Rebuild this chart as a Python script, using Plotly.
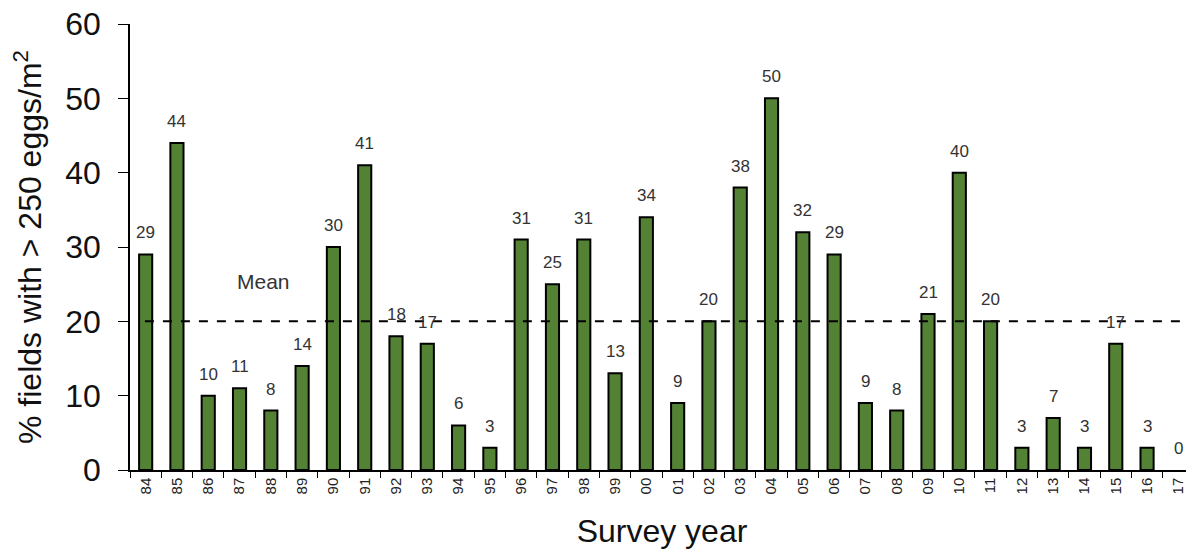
import plotly.graph_objects as go

years = ["84","85","86","87","88","89","90","91","92","93","94","95","96","97","98","99",
         "00","01","02","03","04","05","06","07","08","09","10","11","12","13","14","15","16","17"]
values = [29,44,10,11,8,14,30,41,18,17,6,3,31,25,31,13,34,9,20,38,50,32,29,9,8,21,40,20,3,7,3,17,3,0]
mean_value = 20
y_ticks = [0,10,20,30,40,50,60]

fig = go.Figure()
fig.add_trace(go.Bar(
    x=years, y=values, width=0.42,
    marker=dict(color="#548235",
                line=dict(color="black", width=[0 if v == 0 else 2 for v in values])),
    hoverinfo="x+y",
))

for i, v in enumerate(values):
    fig.add_annotation(x=i, y=v, text=str(v), showarrow=False, yanchor="bottom",
                       yshift=10, font=dict(family="Arial", size=17, color="#333333"))

fig.add_shape(type="line", xref="paper", yref="y", x0=0.014, x1=0.989,
              y0=mean_value, y1=mean_value, line=dict(color="black", width=2, dash="dash"))
fig.add_annotation(x=3.75, y=mean_value + 5.4, text="Mean", showarrow=False,
                   font=dict(family="Arial", size=21, color="#333333"))

fig.update_layout(
    width=1194, height=554,
    margin=dict(l=122, r=8, t=16, b=92),
    plot_bgcolor="white", paper_bgcolor="white",
    showlegend=False, bargap=0.58,
    font=dict(family="Arial", color="black"),
)
fig.update_xaxes(
    type="category", showline=True, linecolor="black", linewidth=1.5,
    ticks="outside", ticklen=6, tickcolor="black", tickson="boundaries",
    tickangle=-90, tickfont=dict(family="Arial", size=15, color="#222222"),
    title=dict(text="Survey year", font=dict(family="Arial", size=32, color="#111111"), standoff=26),
    range=[-0.5, len(years) - 0.5], automargin=False, ticklabeloverflow="allow",
)
fig.update_yaxes(
    range=[0, 60], tickvals=y_ticks, showline=True, linecolor="black", linewidth=1.5,
    ticks="outside", ticklen=10, tickcolor="black", showgrid=False, zeroline=False,
    tickfont=dict(family="Arial", size=32, color="#111111"), ticklabelstandoff=11,
    title=dict(text="% fields with > 250 eggs/m<sup>2</sup>",
               font=dict(family="Arial", size=32, color="#111111"), standoff=16),
    automargin=False, ticklabeloverflow="allow",
)

fig.write_html("out.html")
